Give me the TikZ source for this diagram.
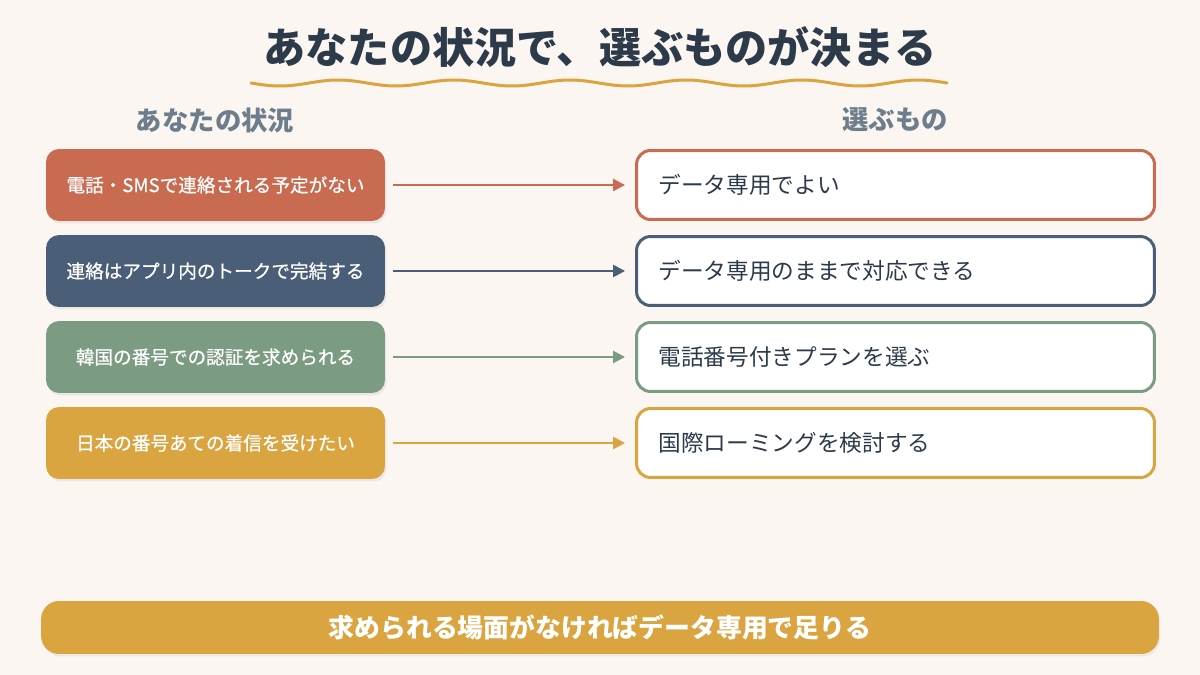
\documentclass[tikz,border=0pt]{standalone}
\usepackage{fontspec}
\setmainfont{Noto Sans CJK JP}
\newfontfamily\medjp[FakeBold=0.6]{Noto Sans CJK JP}
\usetikzlibrary{arrows.meta,shadows}
\definecolor{bgcream}{HTML}{FBF6F1}
\definecolor{inkdark}{HTML}{2C3A4A}
\definecolor{headgray}{HTML}{6E7D8C}
\definecolor{cterra}{HTML}{C86B51}
\definecolor{cslate}{HTML}{4A5F77}
\definecolor{csage}{HTML}{7B9B82}
\definecolor{cgold}{HTML}{DAA441}
\tikzset{
  situation/.style={rounded corners=0.26cm, minimum width=6.78cm, minimum height=1.44cm,
    text=white, font=\fontsize{10.6}{13}\medjp,
    drop shadow={opacity=0.12, shadow xshift=0.03cm, shadow yshift=-0.05cm}},
  choice/.style={draw, line width=0.06cm, fill=white, rounded corners=0.28cm,
    text width=9.48cm, inner xsep=0.44cm, minimum height=1.38cm, align=left,
    text=inkdark, font=\fontsize{12.9}{15}\selectfont},
  flow/.style={line width=0.05cm, -{Triangle[length=0.24cm,width=0.24cm]},
    shorten <=0.16cm, shorten >=0.2cm},
  colhead/.style={text=headgray, font=\fontsize{15}{18}\selectfont\bfseries}
}
\begin{document}
\begin{tikzpicture}[x=0.02cm,y=-0.02cm]
  \fill[bgcream] (0,0) rectangle (1200,675);
  \useasboundingbox (0,0) rectangle (1200,675);
  % title with wavy underline
  \node[text=inkdark, font=\fontsize{24}{28}\selectfont\bfseries] (title) at (600,47) {あなたの状況で、選ぶものが決まる};
  \draw[cgold, line width=0.06cm, line cap=round] plot[domain=251:947, samples=140, smooth]
    (\x, {83+3*sin((\x-251)*3.1034)});
  % column headings
  \node[colhead] (hsit) at (215,120) {あなたの状況};
  \node[colhead] (hcho) at (895,120) {選ぶもの};
  % rows
  \foreach \i/\y/\col/\sit/\cho in {
      1/185/cterra/電話・SMSで連絡される予定がない/データ専用でよい,
      2/271/cslate/連絡はアプリ内のトークで完結する/データ専用のままで対応できる,
      3/357/csage/韓国の番号での認証を求められる/電話番号付きプランを選ぶ,
      4/443/cgold/日本の番号あての着信を受けたい/国際ローミングを検討する} {
    \node[situation, fill=\col] (s\i) at (215.5,\y) {\sit};
    \node[choice, draw=\col] (c\i) at (895.5,\y) {\cho};
    \draw[flow, \col] (s\i) -- (c\i);
  }
  % summary banner
  \node[fill=cgold, rounded corners=0.36cm, minimum width=22.36cm, minimum height=1.06cm,
    text=white, font=\fontsize{14.7}{17}\selectfont\bfseries,
    drop shadow={opacity=0.1, shadow xshift=0.03cm, shadow yshift=-0.05cm}] (summary) at (600,627.5)
    {求められる場面がなければデータ専用で足りる};
\end{tikzpicture}
\end{document}
